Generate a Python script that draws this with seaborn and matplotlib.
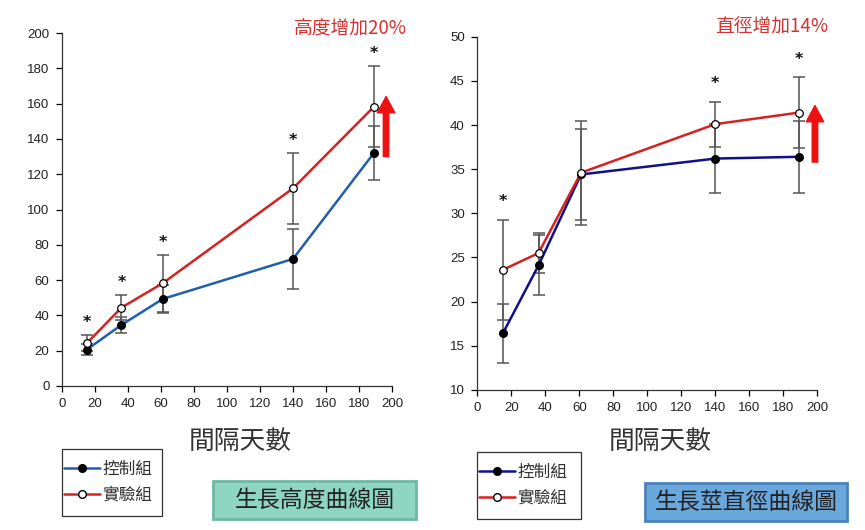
import numpy as np
import pandas as pd
import matplotlib
matplotlib.use("Agg")
import matplotlib.pyplot as plt
import seaborn as sns
from matplotlib.lines import Line2D
from matplotlib.patches import FancyBboxPatch, Rectangle

# ---- data ----
days = [15, 36, 61, 140, 189]
groups = ["控制組", "實驗組"]

height_ctrl = [20.6, 34.6, 49.3, 72.0, 132.0]
height_ctrl_err = [3.0, 4.7, 8.0, 17.0, 15.3]
height_exp = [24.2, 44.4, 58.2, 112.0, 158.2]
height_exp_err = [4.5, 7.2, 16.2, 20.0, 23.0]
height_star_idx = [0, 1, 2, 3, 4]

diam_ctrl = [16.4, 24.1, 34.4, 36.2, 36.4]
diam_ctrl_err = [3.3, 3.4, 5.1, 3.9, 4.1]
diam_exp = [23.6, 25.5, 34.6, 40.1, 41.4]
diam_exp_err = [5.7, 2.3, 5.9, 2.55, 4.0]
diam_star_idx = [0, 3, 4]

x_label = "間隔天數"
height_note = "高度增加20%"
diam_note = "直徑增加14%"
height_title = "生長高度曲線圖"
diam_title = "生長莖直徑曲線圖"

sns.set_style("ticks")
CJK = ["Noto Sans CJK TC", "DejaVu Sans"]
NUM = ["Liberation Sans Narrow", "Liberation Sans", "DejaVu Sans"]
plt.rcParams["font.family"] = CJK

fig = plt.figure(figsize=(8.65, 5.3), dpi=100)
axL = fig.add_axes([0.0717, 0.2717, 0.3815, 0.666])
axR = fig.add_axes([0.5518, 0.2642, 0.3931, 0.6666])

RED = "#d42222"
BLUE_L = "#1f5fae"
BLUE_R = "#10108a"
ERRC = "#555555"


def draw(ax, ctrl, ctrl_err, exp, exp_err, ctrl_color, stars, ylim, yticks, star_off):
    df = pd.DataFrame({
        "day": days * 2,
        "val": list(ctrl) + list(exp),
        "err": list(ctrl_err) + list(exp_err),
        "group": [groups[0]] * len(days) + [groups[1]] * len(days),
    })
    for g in groups:
        sub = df[df.group == g]
        ax.errorbar(sub.day, sub.val, yerr=sub.err, fmt="none", ecolor=ERRC,
                    elinewidth=1.1, capsize=4, capthick=1.1, zorder=2)
    sns.lineplot(data=df, x="day", y="val", hue="group", palette=[ctrl_color, RED],
                 ax=ax, legend=False, linewidth=1.8, zorder=3, sort=False,
                 estimator=None)
    sub = df[df.group == groups[0]]
    ax.scatter(sub.day, sub.val, s=30, color="black", zorder=4)
    sub = df[df.group == groups[1]]
    ax.scatter(sub.day, sub.val, s=30, facecolor="white", edgecolor="black",
               linewidth=0.9, zorder=5)
    for i in stars:
        top = max(ctrl[i] + ctrl_err[i], exp[i] + exp_err[i])
        ax.annotate("*", (days[i], top), xytext=(0, star_off), textcoords="offset points",
                    ha="center", va="center", fontsize=11.5, fontweight="bold",
                    family=["DejaVu Sans"], color="#111111")
    ax.set_xlim(0, 200)
    ax.set_ylim(*ylim)
    ax.set_xticks(range(0, 201, 20))
    ax.set_yticks(yticks)
    for lab in ax.get_xticklabels() + ax.get_yticklabels():
        lab.set_family(NUM)
        lab.set_fontsize(9.5)
        lab.set_color("#222222")
    ax.tick_params(axis="both", length=4, width=0.9, color="black", pad=5)
    for s in ["top", "right"]:
        ax.spines[s].set_visible(False)
    for s in ["left", "bottom"]:
        ax.spines[s].set_color("#333333")
        ax.spines[s].set_linewidth(0.9)
    ax.set_xlabel("")
    ax.set_ylabel("")
    ax.grid(False)


draw(axL, height_ctrl, height_ctrl_err, height_exp, height_exp_err, BLUE_L,
     height_star_idx, (0, 200), range(0, 201, 20), 9)
draw(axR, diam_ctrl, diam_ctrl_err, diam_exp, diam_exp_err, BLUE_R,
     diam_star_idx, (10, 50), range(10, 51, 5), 13)

# x labels
fig.text(240 / 865, 1 - 442 / 530, x_label, ha="center", va="center",
         fontsize=18.5, color="#333333")
fig.text(660 / 865, 1 - 442 / 530, x_label, ha="center", va="center",
         fontsize=18.5, color="#333333")

# arrows
ARROW = "simple,head_width=0.7,head_length=0.65,tail_width=0.22"
axL.annotate("", xy=(196.4, 164), xytext=(196.4, 130), xycoords="data",
             arrowprops=dict(arrowstyle=ARROW, color="#ee1111", mutation_scale=18,
                             shrinkA=0, shrinkB=0),
             annotation_clip=False)
axR.annotate("", xy=(198.6, 42.2), xytext=(198.6, 35.8), xycoords="data",
             arrowprops=dict(arrowstyle=ARROW, color="#ee1111", mutation_scale=18,
                             shrinkA=0, shrinkB=0),
             annotation_clip=False)

# notes
fig.text(350 / 865, 1 - 28 / 530, height_note, ha="center", va="center",
         fontsize=13.5, color="#d93030", fontweight="medium")
fig.text(772 / 865, 1 - 27 / 530, diam_note, ha="center", va="center",
         fontsize=13.5, color="#d93030", fontweight="medium")


# legends (box + entries)
def legend(x0, y0, x1, y1, ctrl_color):
    r = Rectangle((x0 / 865, 1 - y1 / 530), (x1 - x0) / 865, (y1 - y0) / 530,
                  transform=fig.transFigure, facecolor="white", edgecolor="#333333",
                  linewidth=0.9)
    fig.patches.append(r)
    handles = [
        Line2D([], [], color=ctrl_color, lw=1.8, marker="o", markersize=5.5,
               markerfacecolor="black", markeredgecolor="black"),
        Line2D([], [], color=RED, lw=1.8, marker="o", markersize=5.5,
               markerfacecolor="white", markeredgecolor="black"),
    ]
    leg = fig.legend(handles, groups, loc="center left",
                     bbox_to_anchor=(x0 / 865, 1 - (y0 + y1) / 2 / 530),
                     frameon=False, fontsize=12, handlelength=2.2, handletextpad=0.1,
                     borderpad=0.1, labelspacing=0.55, borderaxespad=0)
    for t in leg.get_texts():
        t.set_color("#333333")


legend(62, 449, 162, 516, BLUE_L)
legend(477, 452, 581, 519, BLUE_R)


# title boxes
def box(x0, y0, x1, y1, text, fc, ec):
    w = (x1 - x0) / 865
    h = (y1 - y0) / 530
    p = FancyBboxPatch((x0 / 865, 1 - y1 / 530), w, h, boxstyle="square,pad=0",
                       transform=fig.transFigure, facecolor=fc, edgecolor=ec,
                       linewidth=2.0)
    fig.patches.append(p)
    fig.text((x0 + x1) / 2 / 865, 1 - (y0 + y1) / 2 / 530, text, ha="center",
             va="center", fontsize=16.5, color="#222222")


box(213, 481, 416, 519, height_title, "#8ed6c1", "#6fb9a3")
box(645, 483, 847, 521, diam_title, "#6aa7dd", "#4b82bb")

fig.savefig("out.png", dpi=100)
